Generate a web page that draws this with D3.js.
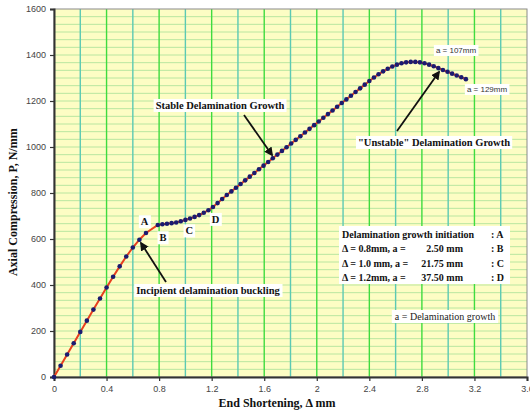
<!DOCTYPE html>
<html>
<head>
<meta charset="utf-8">
<script src="https://cdn.jsdelivr.net/npm/d3@7/dist/d3.min.js"></script>
<style>
  html, body { margin: 0; padding: 0; background: #fff; }
  svg { display: block; }
</style>
</head>
<body>
<svg id="chart" width="530" height="415"></svg>
<script>
// Load-shortening response: pre-buckling branch (0 – 0.70 mm)
const shorteningPre = [0, 0.05, 0.10, 0.15, 0.20, 0.25, 0.30, 0.35, 0.40, 0.45, 0.50, 0.55, 0.60, 0.65, 0.70];
const loadPre       = [0, 49, 98, 147, 196, 245, 293, 341, 389, 436, 481, 524, 563, 597, 626];

// Post-buckling branch with delamination growth (0.79 – 3.135 mm)
const shorteningPost = [
  0.790, 0.825, 0.860, 0.895, 0.930, 0.965, 1.000, 1.035, 1.070, 1.105,
  1.140, 1.175, 1.210, 1.245, 1.280, 1.315, 1.350, 1.385, 1.420, 1.455,
  1.490, 1.525, 1.560, 1.595, 1.630, 1.665, 1.700, 1.735, 1.770, 1.805,
  1.840, 1.875, 1.910, 1.945, 1.980, 2.015, 2.050, 2.085, 2.120, 2.155,
  2.190, 2.225, 2.260, 2.295, 2.330, 2.365, 2.400, 2.435, 2.470, 2.505,
  2.540, 2.575, 2.610, 2.645, 2.680, 2.715, 2.750, 2.785, 2.820, 2.855,
  2.890, 2.925, 2.960, 2.995, 3.030, 3.065, 3.100, 3.135
];
const loadPost = [
  661, 664, 666, 669, 672, 677, 683, 689, 696, 704,
  714, 725, 739, 756, 774, 791, 807, 823, 839, 855,
  871, 887, 903, 919, 935, 951, 967, 983, 999, 1015,
  1031, 1047, 1063, 1079, 1095, 1111, 1127, 1143, 1159, 1175,
  1191, 1207, 1223, 1239, 1255, 1271, 1287, 1302, 1316, 1329,
  1340, 1350, 1358, 1364, 1368, 1370, 1370, 1368, 1364, 1358,
  1351, 1343, 1335, 1327, 1319, 1311, 1303, 1295
];

const xTicks = [0, 0.4, 0.8, 1.2, 1.6, 2, 2.4, 2.8, 3.2, 3.6];
const yTicks = [0, 200, 400, 600, 800, 1000, 1200, 1400, 1600];
const xMinorGrid = [0.2, 0.6, 1.0, 1.4, 1.8, 2.2, 2.6, 3.0, 3.4];

// Points marked along the curve
const pointLabels = [
  { text: "A", x: 0.69, y: 660 },
  { text: "B", x: 0.83, y: 590 },
  { text: "C", x: 1.03, y: 620 },
  { text: "D", x: 1.23, y: 670 }
];
const legendLines = [
  { left: "Delamination growth initiation", mid: "", right: ":  A" },
  { left: "Δ = 0.8mm,  a =", mid: "2.50 mm", right: ":  B" },
  { left: "Δ = 1.0 mm, a =", mid: "21.75 mm", right: ":  C" },
  { left: "Δ = 1.2mm,  a =", mid: "37.50 mm", right: ":  D" }
];

const svg = d3.select("#chart");
const margin = { left: 54, top: 9, right: 3, bottom: 38 };
const W = 530, H = 415;

const x = d3.scaleLinear().domain([0, 3.6]).range([margin.left, W - margin.right]);
const y = d3.scaleLinear().domain([0, 1600]).range([H - margin.bottom, margin.top]);

const serif = "'Liberation Serif', 'Times New Roman', serif";
const sans = "'Liberation Sans', Arial, sans-serif";

// plot background
svg.append("rect")
  .attr("x", x(0)).attr("y", y(1600))
  .attr("width", x(3.6) - x(0)).attr("height", y(0) - y(1600))
  .attr("fill", "#fdfdc4");

// horizontal grid lines
const hGrid = d3.range(0, 48).map(i => i * 1600 / 48).filter(v => v > 0);
svg.append("g").selectAll("line").data(hGrid).join("line")
  .attr("x1", x(0)).attr("x2", x(3.6))
  .attr("y1", d => y(d)).attr("y2", d => y(d))
  .attr("stroke", "#b9e6a0").attr("stroke-width", 1);

// vertical grid lines
svg.append("g").selectAll("line").data(xMinorGrid).join("line")
  .attr("x1", d => x(d)).attr("x2", d => x(d))
  .attr("y1", y(0)).attr("y2", y(1600))
  .attr("stroke", "#5cc9b4").attr("stroke-width", 1.4);
svg.append("g").selectAll("line").data(xTicks.filter(d => d > 0 && d < 3.6)).join("line")
  .attr("x1", d => x(d)).attr("x2", d => x(d))
  .attr("y1", y(0)).attr("y2", y(1600))
  .attr("stroke", "#3fdc3f").attr("stroke-width", 1.4);

// frame
svg.append("rect")
  .attr("x", x(0)).attr("y", y(1600))
  .attr("width", x(3.6) - x(0)).attr("height", y(0) - y(1600))
  .attr("fill", "none").attr("stroke", "#8a8a8a").attr("stroke-width", 1);

// axes
const xAxis = d3.axisBottom(x).tickValues(xTicks).tickSize(4).tickPadding(5)
  .tickFormat(d => String(+d.toFixed(1)));
const gx = svg.append("g").attr("transform", `translate(0,${y(0)})`).call(xAxis);
const yAxis = d3.axisLeft(y).tickValues(yTicks).tickSize(4).tickPadding(4)
  .tickFormat(d => String(d));
const gy = svg.append("g").attr("transform", `translate(${x(0)},0)`).call(yAxis);
[gx, gy].forEach(g => {
  g.select(".domain").attr("stroke", "#333").attr("stroke-width", 2);
  g.selectAll(".tick line").attr("stroke", "#333").attr("stroke-width", 1.2);
  g.selectAll(".tick text").attr("fill", "#444").style("font-family", sans).style("font-size", "9px");
});

// axis titles
svg.append("text")
  .attr("x", 277).attr("y", 407).attr("text-anchor", "middle")
  .style("font-family", serif).style("font-weight", "bold").style("font-size", "12px")
  .attr("fill", "#111").text("End Shortening, Δ mm");
svg.append("text")
  .attr("transform", `translate(17,${y(760)}) rotate(-90)`).attr("text-anchor", "middle")
  .style("font-family", serif).style("font-weight", "bold").style("font-size", "12px")
  .attr("fill", "#111").text("Axial Compression, P, N/mm");

// curve
const pts = shorteningPre.map((d, i) => [d, loadPre[i]])
  .concat(shorteningPost.map((d, i) => [d, loadPost[i]]));
const line = d3.line().x(d => x(d[0])).y(d => y(d[1]));
svg.append("path").datum(pts).attr("d", line)
  .attr("fill", "none").attr("stroke", "#e8401e").attr("stroke-width", 2);
svg.append("g").selectAll("circle").data(pts).join("circle")
  .attr("cx", d => x(d[0])).attr("cy", d => y(d[1])).attr("r", 2.3)
  .attr("fill", "#1b1b70");

// arrow marker
svg.append("defs").append("marker")
  .attr("id", "arrowHead").attr("viewBox", "0 0 10 10")
  .attr("refX", 8).attr("refY", 5).attr("markerWidth", 5).attr("markerHeight", 5)
  .attr("orient", "auto")
  .append("path").attr("d", "M0,0 L10,5 L0,10 Z").attr("fill", "#111");

// text with white background box
function boxedText(tx, ty, str, opts) {
  const g = svg.append("g");
  const rect = g.append("rect").attr("fill", "#fff");
  const t = g.append("text").attr("x", tx).attr("y", ty)
    .attr("text-anchor", opts.anchor || "start")
    .style("font-family", opts.family || serif)
    .style("font-weight", opts.weight || "bold")
    .style("font-size", opts.size || "10.5px")
    .attr("fill", opts.color || "#111")
    .text(str);
  const bb = t.node().getBBox();
  const p = opts.pad == null ? 2 : opts.pad;
  rect.attr("x", bb.x - p).attr("y", bb.y - 1).attr("width", bb.width + 2 * p).attr("height", bb.height + 2);
  return g;
}

function arrow(x1, y1, x2, y2) {
  svg.append("line").attr("x1", x1).attr("y1", y1).attr("x2", x2).attr("y2", y2)
    .attr("stroke", "#111").attr("stroke-width", 1.8).attr("marker-end", "url(#arrowHead)");
}

// annotations
boxedText(208, 294, "Incipient delamination buckling", { anchor: "middle" });
arrow(166, 282, 141, 243);
boxedText(220, 109, "Stable Delamination Growth", { anchor: "middle" });
arrow(244, 115, 272, 155);
boxedText(434, 146, "\"Unstable\" Delamination Growth", { anchor: "middle" });
arrow(397, 131, 439, 72);
boxedText(456, 53, "a = 107mm", { anchor: "middle", family: sans, weight: "normal", size: "8px", color: "#333", pad: 2 });
boxedText(487, 92, "a = 129mm", { anchor: "middle", family: sans, weight: "normal", size: "8px", color: "#333", pad: 2 });

pointLabels.forEach(p => {
  boxedText(x(p.x), y(p.y), p.text, { anchor: "middle", size: "10.5px", pad: 2 });
});

// initiation table
const lg = svg.append("g");
lg.append("rect").attr("x", 339).attr("y", 226).attr("width", 171).attr("height", 58).attr("fill", "#fff");
legendLines.forEach((l, i) => {
  const ty = 238 + i * 14.4;
  const st = sel => sel.style("font-family", serif).style("font-weight", "bold")
    .style("font-size", "10px").attr("fill", "#111");
  lg.append("text").attr("x", 342).attr("y", ty).text(l.left).call(st);
  if (l.mid) lg.append("text").attr("x", 463).attr("y", ty).attr("text-anchor", "end").text(l.mid).call(st);
  lg.append("text").attr("x", 491).attr("y", ty).text(l.right).call(st);
});

boxedText(445, 320, "a  = Delamination growth", { anchor: "middle", weight: "normal", size: "10px", color: "#222", pad: 3 });
</script>
</body>
</html>
